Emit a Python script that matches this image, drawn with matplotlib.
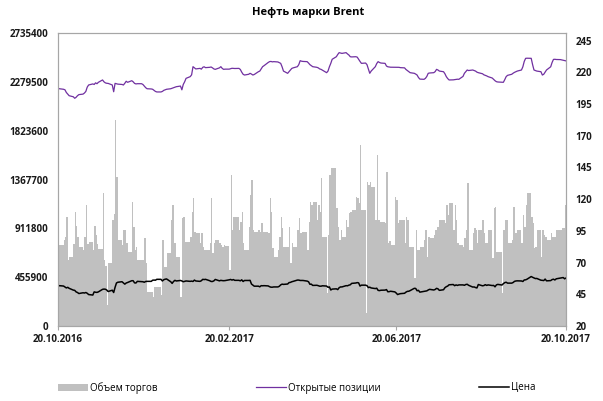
import matplotlib
matplotlib.use("Agg")
import matplotlib.pyplot as plt
import matplotlib.dates as mdates
from matplotlib.patches import Patch
from matplotlib.lines import Line2D
import numpy as np
import pandas as pd

plt.rcParams["font.family"] = ["Open Sans", "DejaVu Sans"]

# trading days, one row per week
dates = pd.bdate_range("2016-10-20", "2017-10-20")

volume_k = [
    720, 760,
    800, 830, 1020, 620, 640,
    770, 1067, 930, 830, 740,
    710, 830, 1130, 770, 780,
    710, 930, 850, 770, 720,
    1239, 616, 560, 196, 585,
    990, 1050, 1923, 1394, 803,
    756, 896, 896, 772, 694,
    1161, 927, 710, 740, 620,
    616, 616, 818, 585, 320,
    320, 274, 367, 367, 367,
    290, 803, 554, 554, 678,
    990, 1130, 772, 772, 647,
    274, 1005, 1020, 787, 787,
    834, 1067, 1192, 880, 865,
    772, 865, 740, 710, 710,
    772, 1192, 678, 772, 803,
    772, 756, 740, 760, 745,
    523, 1410, 896, 1020, 1020,
    896, 974, 1067, 772, 710,
    927, 1223, 1363, 896, 880,
    896, 880, 959, 880, 880,
    865, 1192, 1067, 725, 647,
    710, 834, 1020, 912, 740,
    740, 927, 585, 772, 740,
    896, 1005, 865, 880, 880,
    710, 974, 1161, 1130, 1161,
    990, 1130, 1067, 1379, 834,
    305, 850, 1410, 1472, 1472,
    1098, 927, 803, 896, 834,
    990, 927, 1051, 1067, 1083,
    1207, 1192, 1145, 1690, 1083,
    121, 1347, 1320, 1340, 1300,
    990, 1596, 990, 974, 974,
    959, 1441, 772, 790, 760,
    1207, 1176, 959, 990, 990,
    772, 1020, 990, 740, 740,
    448, 896, 710, 710, 740,
    803, 896, 647, 834, 818,
    850, 896, 927, 927, 990,
    990, 959, 1130, 1036, 1145,
    896, 1130, 990, 772, 756,
    740, 818, 896, 1332, 710,
    865, 912, 896, 772, 896,
    990, 865, 772, 772, 896,
    632, 1098, 1114, 694, 694,
    305, 896, 990, 990, 772,
    803, 1114, 865, 865, 896,
    772, 1036, 927, 1130, 1239,
    1020, 959, 725, 740, 896,
    647, 896, 850, 834, 803,
    865, 834, 834, 834, 896,
    896, 912, 912, 1130, 1130,
]

open_interest_k = [
    2219, 2215,
    2210, 2205, 2180, 2165, 2150,
    2140, 2126, 2135, 2150, 2160,
    2165, 2175, 2190, 2230, 2250,
    2260, 2255, 2270, 2262, 2275,
    2297, 2280, 2270, 2266, 2265,
    2250, 2187, 2265, 2262, 2258,
    2255, 2250, 2266, 2285, 2275,
    2290, 2280, 2265, 2260, 2262,
    2262, 2255, 2240, 2225, 2215,
    2213, 2210, 2200, 2190, 2185,
    2185, 2190, 2200, 2205, 2210,
    2215, 2220, 2225, 2230, 2234,
    2240, 2205, 2255, 2280, 2312,
    2328, 2345, 2421, 2410, 2400,
    2405, 2398, 2415, 2420, 2412,
    2415, 2418, 2410, 2400, 2396,
    2410, 2421, 2405, 2396, 2398,
    2398, 2402, 2406, 2405, 2404,
    2405, 2395, 2370, 2350, 2343,
    2350, 2359, 2352, 2343, 2348,
    2374, 2380, 2400, 2421, 2430,
    2460, 2468, 2470, 2466, 2468,
    2465, 2458, 2452, 2420, 2380,
    2359, 2375, 2390, 2405, 2410,
    2421, 2440, 2477, 2472, 2470,
    2468, 2455, 2440, 2430, 2421,
    2415, 2410, 2400, 2396, 2388,
    2365, 2380, 2420, 2452, 2490,
    2514, 2535, 2552, 2548, 2545,
    2552, 2540, 2530, 2514, 2512,
    2514, 2510, 2490, 2470, 2452,
    2455, 2440, 2400, 2359, 2380,
    2421, 2450, 2468, 2460, 2455,
    2452, 2427, 2420, 2418, 2416,
    2415, 2415, 2414, 2415, 2412,
    2410, 2395, 2385, 2374, 2365,
    2359, 2352, 2343, 2320, 2305,
    2303, 2312, 2330, 2359, 2362,
    2365, 2375, 2396, 2390, 2380,
    2374, 2355, 2328, 2310, 2297,
    2298, 2300, 2302, 2304, 2303,
    2330, 2359, 2375, 2390, 2385,
    2390, 2385, 2380, 2370, 2365,
    2355, 2345, 2340, 2335, 2328,
    2315, 2303, 2290, 2281, 2278,
    2276, 2275, 2300, 2328, 2340,
    2350, 2360, 2368, 2374, 2380,
    2390, 2420, 2470, 2499, 2500,
    2499, 2440, 2390, 2385, 2380,
    2374, 2343, 2350, 2370, 2390,
    2420, 2460, 2489, 2490, 2488,
    2487, 2484, 2480, 2477, 2475,
]

price = [
    51.4, 51.8,
    51.5, 50.8, 50.0, 50.5, 49.7,
    48.3, 48.1, 46.9, 46.4, 45.6,
    46.2, 46.0, 46.4, 45.8, 44.8,
    44.4, 46.9, 46.6, 46.5, 46.9,
    48.9, 49.1, 49.0, 48.4, 47.2,
    48.2, 46.4, 50.5, 53.9, 54.5,
    54.9, 53.9, 53.0, 53.9, 54.3,
    55.7, 55.7, 54.0, 53.9, 55.2,
    55.0, 54.9, 54.5, 55.1, 55.2,
    55.2, 56.1, 56.2, 56.1, 56.8,
    56.8, 55.5, 56.5, 56.9, 57.1,
    54.9, 53.6, 55.1, 56.0, 55.5,
    55.9, 55.5, 54.9, 55.2, 55.5,
    55.2, 55.4, 55.1, 56.2, 55.5,
    55.2, 55.7, 56.8, 56.6, 56.8,
    55.7, 55.1, 55.1, 55.6, 56.7,
    55.6, 56.0, 55.8, 55.7, 55.8,
    56.4, 56.7, 56.2, 56.6, 56.0,
    56.0, 55.6, 56.4, 55.1, 55.9,
    55.9, 56.0, 53.1, 52.2, 51.4,
    51.4, 50.9, 51.8, 51.7, 51.8,
    51.6, 51.0, 50.6, 50.6, 50.8,
    50.8, 51.3, 52.4, 53.0, 52.8,
    53.1, 54.2, 54.4, 54.9, 55.2,
    56.2, 56.2, 55.9, 55.9, 55.9,
    55.4, 54.9, 52.9, 53.0, 52.0,
    52.1, 51.8, 51.4, 51.4, 51.7,
    51.5, 50.5, 50.8, 48.4, 49.1,
    49.3, 48.7, 50.2, 50.8, 50.8,
    51.8, 51.7, 52.2, 52.5, 53.6,
    53.9, 54.2, 54.0, 51.5, 52.2,
    52.2, 51.8, 50.3, 50.6, 50.0,
    49.5, 49.8, 48.1, 47.9, 48.2,
    48.3, 48.7, 47.0, 47.1, 47.4,
    46.9, 46.0, 44.8, 45.2, 45.5,
    45.8, 46.7, 47.3, 47.4, 47.9,
    49.7, 49.6, 47.8, 48.1, 46.7,
    47.3, 47.5, 47.7, 48.4, 48.9,
    48.4, 48.8, 49.7, 49.3, 48.1,
    48.6, 50.2, 51.0, 51.5, 52.5,
    52.7, 51.8, 52.4, 52.0, 52.4,
    52.4, 52.1, 52.7, 52.9, 52.1,
    50.7, 50.8, 50.3, 50.0, 52.7,
    51.7, 51.9, 52.6, 52.0, 52.4,
    51.9, 52.0, 50.9, 52.4, 52.8,
    52.3, 53.4, 54.2, 54.5, 53.8,
    53.8, 54.3, 55.2, 55.5, 55.6,
    55.5, 55.1, 56.3, 56.4, 56.9,
    59.0, 58.4, 57.9, 57.4, 57.5,
    56.1, 56.0, 55.8, 57.0, 55.6,
    55.8, 56.6, 56.9, 56.3, 57.2,
    57.8, 58.0, 58.2, 57.2, 57.8,
]

left_ticks = [0, 455900, 911800, 1367700, 1823600, 2279500, 2735400]
right_ticks = [20, 45, 70, 95, 120, 145, 170, 195, 220, 245]
date_ticks = pd.to_datetime(["2016-10-20", "2017-02-20", "2017-06-20", "2017-10-20"])

assert len(dates) == len(volume_k) == len(open_interest_k) == len(price)

volume = np.array(volume_k) * 1000
oi = np.array(open_interest_k) * 1000

x = mdates.date2num(dates)
widths = np.append(np.diff(x), 1.0)

fig = plt.figure(figsize=(6.03, 4.01), dpi=100)
ax = fig.add_axes([58 / 603, 1 - 326 / 401, 508 / 603, 293 / 401])
ax2 = ax.twinx()

ax.bar(x, volume, width=widths, align="edge", color="#C0C0C0", linewidth=0)
ax.plot(x, oi, color="#7030A0", lw=0.9)
ax2.plot(x, price, color="black", lw=1.1)

ax.set_xlim(mdates.date2num(date_ticks[0]), mdates.date2num(date_ticks[-1]))
ax.set_ylim(0, 2735400)
ax2.set_ylim(20, 251)

ax.set_yticks(left_ticks)
ax.set_yticklabels([str(t) for t in left_ticks])
ax2.set_yticks(right_ticks)
ax.set_xticks(mdates.date2num(date_ticks))
ax.set_xticklabels([d.strftime("%d.%m.%Y") for d in date_ticks])

for lab in ax.get_yticklabels() + ax.get_xticklabels() + ax2.get_yticklabels():
    lab.set_fontsize(7)
    lab.set_fontweight("bold")
    lab.set_color("#1a1a1a")

ax.tick_params(axis="y", length=0, pad=7)
ax2.tick_params(axis="y", length=0, pad=7)
ax.tick_params(axis="x", length=3, color="#A6A6A6", pad=3)

for a in (ax, ax2):
    for s in a.spines.values():
        s.set_color("#A6A6A6")
        s.set_linewidth(0.8)

fig.text(0.511, 0.968, "Нефть марки Brent", ha="center", va="center",
         fontsize=8, fontweight="bold")

leg_font = dict(size=7)
items = [
    (Patch(facecolor="#C0C0C0", edgecolor="none"), "Объем торгов", 58),
    (Line2D([], [], color="#7030A0", lw=0.9), "Открытые позиции", 256),
    (Line2D([], [], color="black", lw=1.1), "Цена", 479),
]
for handle, label, px in items:
    fig.legend([handle], [label], loc="center left",
               bbox_to_anchor=(px / 603, 1 - 388 / 401), frameon=False,
               prop=leg_font, handlelength=3.1, handletextpad=0.2,
               borderpad=0, borderaxespad=0)

fig.savefig("out.png", dpi=100)
